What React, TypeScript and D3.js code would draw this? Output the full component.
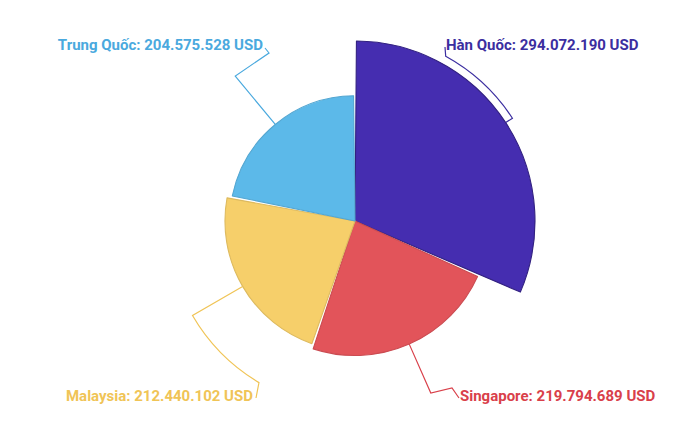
import React, { useEffect, useRef } from "react";
import * as d3 from "d3";

const countries: string[] = ["Hàn Quốc", "Singapore", "Malaysia", "Trung Quốc"];
const values: number[] = [294072190, 219794689, 212440102, 204575528];
const colors: string[] = ["#452db0", "#e2545a", "#f6cf6a", "#5cb9e9"];
const labelColors: string[] = ["#3b2ea0", "#d9404a", "#f0c456", "#4aa9de"];

const WIDTH = 700;
const HEIGHT = 444;

const formatVnd = (v: number) =>
  d3.format(",")(v).replace(/,/g, ".") + " USD";

const App: React.FC = () => {
  const svgRef = useRef<SVGSVGElement | null>(null);

  useEffect(() => {
    document.body.style.margin = "0";
    if (!svgRef.current) return;
    const svg = d3.select(svgRef.current);
    svg.selectAll("*").remove();

    const cx = 355;
    const cy = 221;
    const maxR = 180;
    const lineR = 188;

    const rScale = d3
      .scaleLinear()
      .domain([0, d3.max(values)!])
      .range([0, maxR]);

    const pie = d3
      .pie<number>()
      .sort(null)
      .value((d) => d)
      .startAngle(0)
      .endAngle(2 * Math.PI);
    const arcs = pie(values);

    const g = svg.append("g").attr("transform", `translate(${cx},${cy})`);

    const arcGen = d3
      .arc<d3.PieArcDatum<number>>()
      .innerRadius(0)
      .outerRadius((d) => rScale(d.data))
      .padAngle(0.016)
      .padRadius(maxR);

    g.selectAll("path.slice")
      .data(arcs)
      .enter()
      .append("path")
      .attr("class", "slice")
      .attr("d", arcGen)
      .attr("fill", (_, i) => colors[i])
      .attr("stroke", (_, i) =>
        d3.color(colors[i])!.darker(i === 0 ? 0.9 : 0.3).formatHex()
      )
      .attr("stroke-width", 1.1)
      .attr("stroke-linejoin", "round");

    const polar = (a: number, r: number): [number, number] => [
      r * Math.sin(a),
      -r * Math.cos(a),
    ];

    arcs.forEach((d, i) => {
      const mid = (d.startAngle + d.endAngle) / 2;
      const right = Math.sin(mid) > 0;
      const top = Math.cos(mid) > 0;
      const baseline = top ? -171 : 180;
      const textX = right ? (top ? 91 : 105) : top ? -92 : -102;
      const anchor: [number, number] = [
        right ? textX - 1 : textX + 3,
        baseline - 3,
      ];

      const p = d3.path();
      const [x0, y0] = polar(mid, rScale(d.data));
      const [x1, y1] = polar(mid, lineR);
      p.moveTo(x0, y0);
      p.lineTo(x1, y1);

      let anchorAngle = Math.atan2(anchor[0], -anchor[1]);
      if (anchorAngle < 0) anchorAngle += 2 * Math.PI;
      const diff = anchorAngle - mid;
      if (Math.abs(diff) > (20 * Math.PI) / 180) {
        const endA = anchorAngle + (diff > 0 ? -1 : 1) * (1.5 * Math.PI) / 180;
        p.arc(0, 0, lineR, mid - Math.PI / 2, endA - Math.PI / 2, endA < mid);
        p.lineTo(anchor[0], anchor[1]);
      } else if (!top) {
        p.lineTo(anchor[0] - 7, anchor[1] - 10);
        p.lineTo(anchor[0], anchor[1]);
      } else {
        p.lineTo(textX + 6, baseline + 3);
        p.lineTo(textX + 2, baseline - 2);
      }

      g.append("path")
        .attr("d", p.toString())
        .attr("fill", "none")
        .attr("stroke", labelColors[i])
        .attr("stroke-width", 1.2);

      g.append("text")
        .attr("x", textX)
        .attr("y", baseline)
        .attr("text-anchor", right ? "start" : "end")
        .attr("fill", labelColors[i])
        .attr("font-family", "Roboto, sans-serif")
        .attr("font-size", 15)
        .attr("font-weight", 700)
        .text(`${countries[i]}: ${formatVnd(values[i])}`);
    });
  }, []);

  return (
    <svg
      ref={svgRef}
      width={WIDTH}
      height={HEIGHT}
      style={{ display: "block", background: "#ffffff" }}
    ></svg>
  );
};

export default App;
